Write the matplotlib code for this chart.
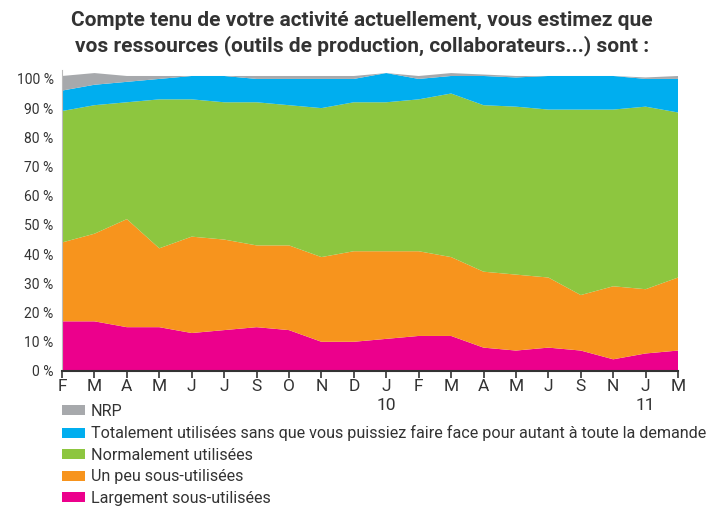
import matplotlib
matplotlib.use("Agg")
import matplotlib.pyplot as plt
import numpy as np
from matplotlib.patches import Patch

# ---------------------------------------------------------------------------
# Data (percentages)
# ---------------------------------------------------------------------------
months = ["F", "M", "A", "M", "J", "J", "S", "O", "N", "D",
          "J\n10", "F", "M", "A", "M", "J", "S", "N", "J\n11", "M"]

largement   = [17, 17, 15, 15, 13, 14, 15, 14, 10, 10, 11, 12, 12, 8, 7, 8, 7, 4, 6, 7]
un_peu      = [27, 30, 37, 27, 33, 31, 28, 29, 29, 31, 30, 29, 27, 26, 26, 24, 19, 25, 22, 25]
normalement = [45, 44, 40, 51, 47, 47, 49, 48, 51, 51, 51, 52, 56, 57, 57.5, 57.5, 63.5, 60.5, 62.5, 56.5]
totalement  = [7, 7, 7, 7, 8, 9, 8, 9, 10, 8, 10, 7, 6, 10, 10, 11.5, 11.5, 11.5, 9.5, 11.5]
nrp         = [5, 4, 2, 1, 0, 0, 1, 1, 1, 1, 0, 1, 1, 0.5, 0.5, 0, 0, 0, 0.5, 1]

series_labels = ["Largement sous-utilisées",
                 "Un peu sous-utilisées",
                 "Normalement utilisées",
                 "Totalement utilisées sans que vous puissiez faire face pour autant à toute la demande",
                 "NRP"]
colors = ["#EC008C", "#F7941D", "#8DC63F", "#00AEEF", "#A7A9AC"]

title = ("Compte tenu de votre activité actuellement, vous estimez que\n"
         "vos ressources (outils de production, collaborateurs...) sont :")

# ---------------------------------------------------------------------------
# Figure
# ---------------------------------------------------------------------------
plt.rcParams["font.family"] = ["Roboto", "DejaVu Sans"]

fig = plt.figure(figsize=(7.13, 5.12), dpi=100)
ax = fig.add_axes([0.087, 0.2754, 0.864, 0.5876])

x = np.arange(len(months))
ax.stackplot(x, largement, un_peu, normalement, totalement, nrp,
             colors=colors, linewidth=0)

ax.set_xlim(0, len(months) - 1)
ax.set_ylim(0, 103)

ax.set_yticks(np.arange(0, 101, 10))
ax.set_yticklabels([f"{v} %" for v in range(0, 101, 10)], fontsize=10, color="#333333")
ax.tick_params(axis="y", length=0, pad=6)

ax.set_xticks(x)
ax.set_xticklabels(months, fontsize=12.5, color="#333333", linespacing=1.3)
ax.tick_params(axis="x", length=5, width=1.2, color="#333333", pad=1)

for s in ["top", "right"]:
    ax.spines[s].set_visible(False)
ax.spines["left"].set_color("#BBBBBB")
ax.spines["left"].set_linewidth(0.8)
ax.spines["bottom"].set_color("#333333")
ax.spines["bottom"].set_linewidth(1.5)

fig.text(0.508, 0.935, title, ha="center", va="center", fontsize=15,
         fontweight="bold", color="#333333", linespacing=1.3)

handles = [Patch(facecolor=c, edgecolor="none") for c in colors][::-1]
fig.legend(handles, series_labels[::-1], loc="upper left",
           bbox_to_anchor=(0.087, 0.211), frameon=False, fontsize=11.6,
           handlelength=1.45, handleheight=0.6, handletextpad=0.35,
           labelspacing=0.4, borderaxespad=0, borderpad=0,
           labelcolor="#333333")

fig.savefig("out.png", dpi=100)
